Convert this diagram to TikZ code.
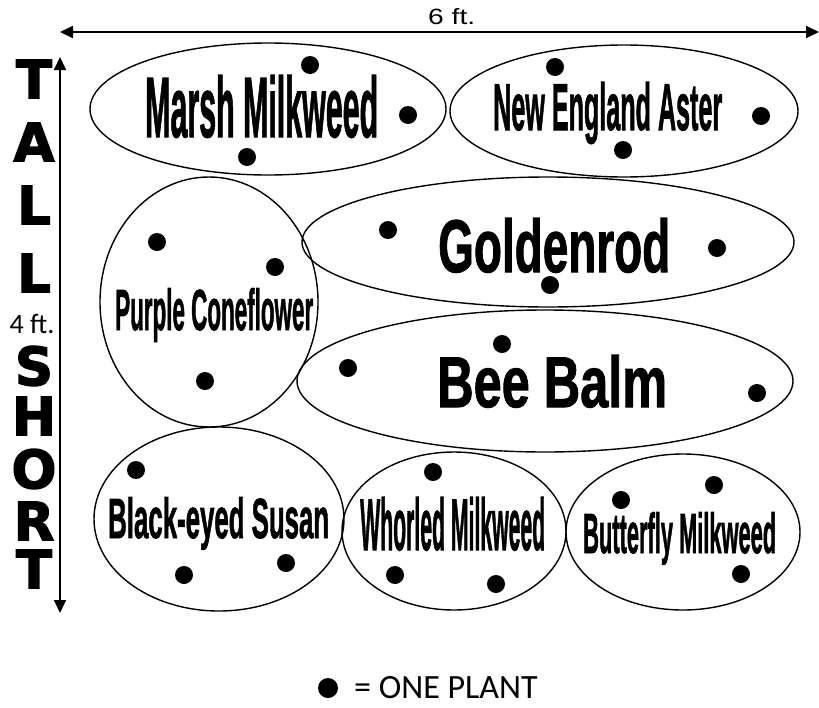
\documentclass[tikz,border=0pt]{standalone}
\usepackage{fontspec}
\setmainfont{Liberation Sans}
\newfontfamily\carl{Carlito}
\newfontfamily\heavy{DejaVu Sans}[BoldFeatures={FakeBold=2.5}]
\newfontfamily\labfont{Liberation Sans}[BoldFeatures={FakeBold=1.6}]
\usetikzlibrary{shapes.geometric,arrows.meta}
\newcommand{\plab}[3]{\resizebox{#1pt}{#2pt}{\labfont\bfseries #3}}
\tikzset{
  bed/.style={draw, ellipse, line width=1.4pt, inner sep=0pt},
  plant/.style={circle, fill=black, inner sep=0pt, minimum size=18pt},
  lab/.style={anchor=base west, inner sep=0pt},
  axisletter/.style={inner sep=0pt, font=\heavy\bfseries\fontsize{53}{53}\selectfont},
  axisarrow/.style={line width=1.8pt, {Triangle[length=13pt,width=12pt]}-{Triangle[length=13pt,width=12pt]}},
  small/.style={inner sep=0pt, font=\carl\fontsize{28}{28}\selectfont}
}
\begin{document}
\begin{tikzpicture}[x=1pt,y=-1pt]
\useasboundingbox (0,0) rectangle (819,707);

% axes
\coordinate (hl) at (60,32);
\coordinate (hr) at (819,32);
\draw[axisarrow] (hl) -- (hr);
\node[lab] (sixft) at (428,24) {\resizebox{47pt}{16pt}{6 ft.}};
\coordinate (vt) at (60,57);
\coordinate (vb) at (60,613);
\draw[axisarrow] (vt) -- (vb);
\node[small] (fourft) at (32,324) {4 ft.};

\node[axisletter] (l1) at (34,79) {T};
\node[axisletter] (l2) at (34,142) {A};
\node[axisletter] (l3) at (34,205) {L};
\node[axisletter] (l4) at (34,273) {L};
\node[axisletter] (l5) at (34,366) {S};
\node[axisletter] (l6) at (34,416) {H};
\node[axisletter] (l7) at (34,469) {O};
\node[axisletter] (l8) at (34,521) {R};
\node[axisletter] (l9) at (34,569) {T};

% beds
\node[bed, minimum width=356pt, minimum height=132pt] (marsh) at (268,109) {};
\node[bed, minimum width=348pt, minimum height=132pt] (nea) at (624,111) {};
\node[bed, minimum width=218pt, minimum height=250pt] (purple) at (209,302) {};
\node[bed, minimum width=492pt, minimum height=130pt] (golden) at (548,242) {};
\node[bed, minimum width=496pt, minimum height=142pt] (bee) at (545,381) {};
\node[bed, minimum width=250pt, minimum height=184pt] (bes) at (219,519) {};
\node[bed, minimum width=224pt, minimum height=158pt] (whorled) at (454,531) {};
\node[bed, minimum width=234pt, minimum height=156pt] (butterfly) at (683,532) {};

% labels
\node[lab] (tmarsh) at (145,137) {\plab{233}{62}{Marsh Milkweed}};
\node[lab] (tnea) at (493,130) {\plab{229}{48}{New England Aster}};
\node[lab] (tpurple) at (115,330) {\plab{198}{42}{Purple Coneflower}};
\node[lab] (tgolden) at (438,272) {\plab{232}{54}{Goldenrod}};
\node[lab] (tbee) at (437,407) {\plab{230}{52}{Bee Balm}};
\node[lab] (tbes) at (108,538) {\plab{221}{41}{Black-eyed Susan}};
\node[lab] (twhorled) at (360,550) {\plab{185}{53}{Whorled Milkweed}};
\node[lab] (tbutterfly) at (583,553) {\plab{193}{41}{Butterfly Milkweed}};

% plants
\node[plant] (m1) at (310,65) {};
\node[plant] (m2) at (408,115) {};
\node[plant] (m3) at (247,157) {};
\node[plant] (n1) at (555,67) {};
\node[plant] (n2) at (761,116) {};
\node[plant] (n3) at (623,150) {};
\node[plant] (p1) at (157,242) {};
\node[plant] (p2) at (275,267) {};
\node[plant] (p3) at (205,381) {};
\node[plant] (g1) at (388,230) {};
\node[plant] (g2) at (717,248) {};
\node[plant] (g3) at (550,285) {};
\node[plant] (b1) at (348,368) {};
\node[plant] (b2) at (502,344) {};
\node[plant] (b3) at (757,393) {};
\node[plant] (s1) at (136,470) {};
\node[plant] (s2) at (184,575) {};
\node[plant] (s3) at (286,563) {};
\node[plant] (w1) at (433,472) {};
\node[plant] (w2) at (395,575) {};
\node[plant] (w3) at (496,584) {};
\node[plant] (f1) at (621,500) {};
\node[plant] (f2) at (714,485) {};
\node[plant] (f3) at (741,574) {};

% legend
\node[plant, minimum size=20pt] (legdot) at (328,688) {};
\node[anchor=base west, inner sep=0pt, font=\carl\fontsize{34}{34}\selectfont] (legtext) at (354,698) {= ONE PLANT};
\end{tikzpicture}
\end{document}
